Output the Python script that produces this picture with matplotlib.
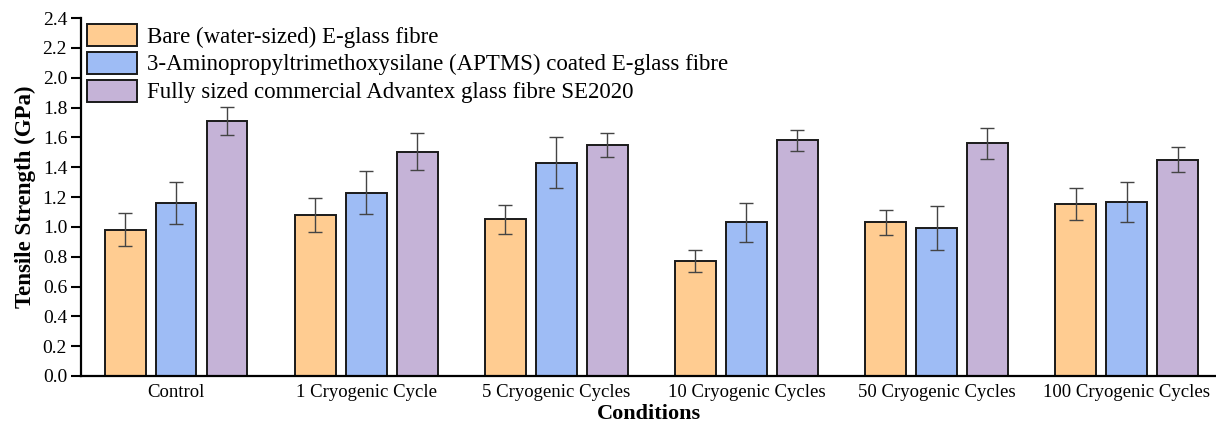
import matplotlib.pyplot as plt
import numpy as np

plt.rcParams['font.family'] = ['Liberation Serif', 'DejaVu Serif']

conditions = ['Control', '1 Cryogenic Cycle', '5 Cryogenic Cycles',
              '10 Cryogenic Cycles', '50 Cryogenic Cycles', '100 Cryogenic Cycles']
series_names = ['Bare (water-sized) E-glass fibre',
                '3-Aminopropyltrimethoxysilane (APTMS) coated E-glass fibre',
                'Fully sized commercial Advantex glass fibre SE2020']

bare = [0.98, 1.08, 1.05, 0.77, 1.03, 1.155]
bare_err = [0.11, 0.112, 0.096, 0.073, 0.085, 0.107]
aptms = [1.16, 1.23, 1.43, 1.03, 0.99, 1.165]
aptms_err = [0.143, 0.142, 0.171, 0.132, 0.147, 0.135]
advantex = [1.71, 1.505, 1.55, 1.58, 1.56, 1.45]
advantex_err = [0.094, 0.124, 0.08, 0.072, 0.103, 0.085]

colors = ['#FFCC91', '#9EBCF5', '#C5B3D7']

fig = plt.figure(figsize=(12.16, 4.25), dpi=100)
ax = fig.add_axes([0.0666, 0.1153, 0.9334, 0.8423])

x = np.arange(len(conditions))
width = 0.215
gap = 0.268
for i, (vals, errs) in enumerate([(bare, bare_err), (aptms, aptms_err), (advantex, advantex_err)]):
    ax.bar(x + (i - 1) * gap, vals, width, color=colors[i], edgecolor='#1a1a1a',
           linewidth=1.4, label=series_names[i], zorder=2)
    ax.errorbar(x + (i - 1) * gap, vals, yerr=errs, fmt='none', ecolor='#444444',
                elinewidth=1.0, capsize=4.8, capthick=1.0, zorder=3)

ax.set_xlim(-0.5, 5.47)
ax.set_ylim(0, 2.4)
ax.set_yticks(np.arange(0, 2.41, 0.2))
ax.set_yticklabels([f'{v:.1f}' for v in np.arange(0, 2.41, 0.2)])
ax.set_xticks(x)
ax.set_xticklabels(conditions)
ax.tick_params(axis='y', labelsize=14, length=7, width=1.5, direction='out', pad=3)
ax.tick_params(axis='x', labelsize=13.5, length=0, pad=6)

ax.spines['top'].set_visible(False)
ax.spines['right'].set_visible(False)
ax.spines['left'].set_linewidth(1.6)
ax.spines['bottom'].set_linewidth(1.6)

ax.set_ylabel('Tensile Strength (GPa)', fontsize=16.5, fontweight='bold', labelpad=5)
ax.set_xlabel('Conditions', fontsize=16, fontweight='bold', labelpad=2)

ax.legend(loc='upper left', bbox_to_anchor=(0.0, 1.0), frameon=False, fontsize=16.5,
          handlelength=2.2, handleheight=1.1, handletextpad=0.45, labelspacing=0.18,
          borderpad=0.1, borderaxespad=0.15)

fig.savefig('out.png', dpi=100)
